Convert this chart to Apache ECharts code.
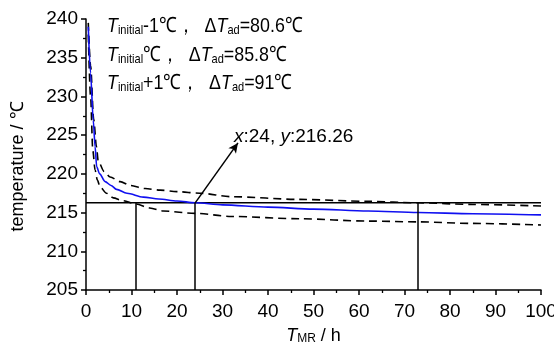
<!DOCTYPE html>
<html>
<head>
<meta charset="utf-8">
<script src="https://cdn.jsdelivr.net/npm/echarts@6/dist/echarts.min.js"></script>
<style>
  html, body { margin: 0; padding: 0; background: #fff; overflow: hidden; }
  #chart { width: 554px; height: 346px; }
</style>
</head>
<body>
<div id="chart"></div>
<script>
// Temperature vs. T_MR for three initial temperatures
const xTicks = [0, 10, 20, 30, 40, 50, 60, 70, 80, 90, 100];
const yTicks = [205, 210, 215, 220, 225, 230, 235, 240];

// T_initial (solid blue)
const midX = [0.5, 1, 1.6, 2, 2.35, 3, 4.2, 5.5, 6.7, 9, 12.6, 16, 20, 24, 30, 40, 50, 62, 73, 85, 100];
const midT = [239, 233, 226.9, 223.5, 220.9, 220, 219.0, 218.5, 218.0, 217.5, 217.0, 216.75, 216.5, 216.26, 216.0, 215.7, 215.45, 215.2, 215.0, 214.85, 214.7];

// T_initial + 1 (upper dashed)
const hiX = [0.5, 1, 1.7, 2.3, 2.7, 4, 5.3, 7.5, 9.7, 13, 16.3, 20, 25, 32, 47, 62, 73, 85, 100];
const hiT = [239.5, 234, 227, 223.5, 221.6, 220.3, 219.6, 219.0, 218.5, 218.1, 217.9, 217.7, 217.5, 217.05, 216.7, 216.45, 216.26, 216.05, 215.85];

// T_initial - 1 (lower dashed)
const loX = [0.5, 1, 1.5, 2, 2.5, 3.1, 4.5, 6, 8, 11, 14, 17, 24, 32, 47, 62, 73, 85, 100];
const loT = [238, 230, 223, 220.5, 219.2, 218.3, 217.5, 216.9, 216.55, 216.1, 215.6, 215.2, 214.9, 214.5, 214.2, 213.9, 213.8, 213.6, 213.4];

// Level line and the times where each curve reaches it
const level = 216.26;
const crossX = [11, 24, 73];
const pickX = 24;
const arrowEnd = [33.4, 224];

const caseLines = [
  ['-1℃', '80.6'],
  ['℃', '85.8'],
  ['+1℃', '91']
];

const zip = (xs, ys) => xs.map((x, i) => [x, ys[i]]);
const FONT = '"Liberation Sans", Arial, sans-serif';

function richSet(size, subSize) {
  return {
    i: { fontFamily: FONT, fontSize: size, fontStyle: 'italic', color: '#000' },
    s: { fontFamily: FONT, fontSize: subSize, color: '#000', verticalAlign: 'bottom' },
    n: { fontFamily: FONT, fontSize: size, color: '#000' }
  };
}

const chart = echarts.init(document.getElementById('chart'));

const dashed = { color: '#000', width: 1.6, type: [8, 5] };
const axisCommon = {
  axisLine: { show: true, lineStyle: { color: '#000', width: 1.5 } },
  axisTick: { show: true, inside: false, length: 5, lineStyle: { color: '#000', width: 1.5 } },
  minorTick: { show: true, splitNumber: 2, length: 3, lineStyle: { color: '#000', width: 1.3 } },
  splitLine: { show: false }
};

chart.setOption({
  animation: false,
  backgroundColor: '#fff',
  grid: { left: 86, right: 13, top: 19, bottom: 56, containLabel: false, outerBoundsMode: 'none' },
  xAxis: Object.assign({
    type: 'value', min: xTicks[0], max: xTicks[xTicks.length - 1], interval: 10,
    name: '{i|T}{s|MR}{n| / h}', nameLocation: 'middle', nameGap: 37,
    nameTextStyle: { rich: richSet(18, 12) },
    axisLabel: { color: '#000', fontFamily: FONT, fontSize: 19, margin: 12 }
  }, axisCommon),
  yAxis: Object.assign({
    type: 'value', min: yTicks[0], max: yTicks[yTicks.length - 1], interval: 5,
    name: 'temperature / ℃', nameLocation: 'middle', nameGap: 59, nameRotate: 90,
    nameTextStyle: { color: '#000', fontFamily: FONT, fontSize: 18, padding: [0, 24, 0, 0] },
    axisLabel: { color: '#000', fontFamily: FONT, fontSize: 19, margin: 8 }
  }, axisCommon),
  series: [
    {
      type: 'line', data: zip(hiX, hiT), showSymbol: false, smooth: 0.3, smoothMonotone: 'x',
      lineStyle: dashed, z: 3
    },
    {
      type: 'line', data: zip(loX, loT), showSymbol: false, smooth: 0.3, smoothMonotone: 'x',
      lineStyle: dashed, z: 3
    },
    {
      type: 'line', data: zip(midX, midT), showSymbol: false, smooth: 0.3, smoothMonotone: 'x',
      lineStyle: { color: '#1010f0', width: 1.6 }, z: 4
    },
    {
      // level line with the drop lines and the pointer arrow
      type: 'line', data: [[xTicks[0], level], [xTicks[xTicks.length - 1], level]],
      showSymbol: false, lineStyle: { color: '#000', width: 1.5 }, z: 2,
      markLine: {
        silent: true, symbol: ['none', 'none'], animation: false,
        label: { show: false },
        lineStyle: { color: '#000', width: 1.5, type: 'solid' },
        data: crossX.map(x => [{ coord: [x, yTicks[0]] }, { coord: [x, level] }]).concat([
          [{ coord: [pickX, level], symbol: 'none' },
           { coord: arrowEnd, symbol: 'arrow', symbolSize: [7, 10] }]
        ])
      }
    },
    {
      // value label at the tip of the arrow
      type: 'scatter', data: [arrowEnd], symbolSize: 0, z: 6,
      itemStyle: { opacity: 1 },
      label: {
        show: true, position: [-4, -16], align: 'left', color: '#000',
        formatter: () => '{i|x}{n|:' + pickX + ', }{i|y}{n|:' + level + '}',
        rich: richSet(19, 13)
      }
    }
  ],
  // three case captions, drawn slightly condensed
  graphic: caseLines.map((c, k) => ({
    type: 'text', x: 107, y: 16 + k * 28.5, scaleX: 0.85, scaleY: 1,
    style: {
      text: '{i|T}{s|initial}{n|' + c[0] + '，  Δ}{i|T}{s|ad}{n|=' + c[1] + '℃}',
      rich: richSet(21, 13)
    }
  }))
});
</script>
</body>
</html>
